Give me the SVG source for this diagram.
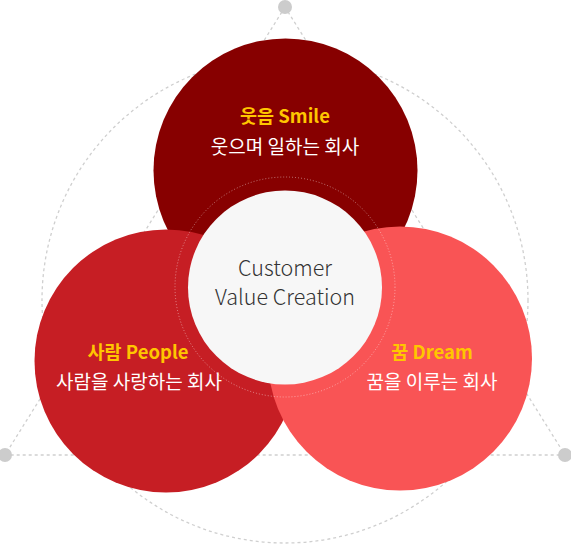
<svg xmlns="http://www.w3.org/2000/svg" width="571" height="545" viewBox="0 0 571 545">
<style>
.guide{fill:none;stroke:#cfcfcf;stroke-width:1.3;stroke-dasharray:3 3}
.dot{fill:#cccccc}
.title{font-family:"Noto Sans CJK KR","Noto Sans",sans-serif;font-weight:700;font-size:18.5px;fill:#ffc600;text-anchor:middle}
.sub{font-family:"Noto Sans CJK KR","Noto Sans",sans-serif;font-weight:400;font-size:19px;fill:#ffffff;text-anchor:middle}
.core{font-family:"Noto Sans CJK KR","Noto Sans",sans-serif;font-weight:300;font-size:21.5px;fill:#333333;text-anchor:middle}
</style>
<rect width="571" height="545" fill="#ffffff"/>
<g id="connectors">
<circle class="guide" cx="285" cy="300" r="243"/>
<polygon class="guide" points="285,7 5,455 565,455"/>
</g>
<g id="dots">
<circle class="dot" cx="285" cy="7" r="7"/>
<circle class="dot" cx="5" cy="455" r="7"/>
<circle class="dot" cx="565" cy="455" r="7"/>
</g>
<g id="smile">
<circle cx="285.5" cy="170.5" r="132" fill="#870000"/>
<text class="title" x="285" y="123">웃음 Smile</text>
<text class="sub" x="285" y="154">웃으며 일하는 회사</text>
</g>
<g id="people">
<circle cx="166" cy="361" r="131.5" fill="#c61e24"/>
<text class="title" x="138" y="359">사람 People</text>
<text class="sub" x="139" y="389">사람을 사랑하는 회사</text>
</g>
<g id="dream">
<circle cx="400" cy="358.5" r="132" fill="#f95455"/>
<text class="title" x="432" y="359">꿈 Dream</text>
<text class="sub" x="432" y="389">꿈을 이루는 회사</text>
</g>
<g id="core">
<circle cx="285" cy="287" r="110" fill="none" stroke="#ffffff" stroke-opacity="0.45" stroke-width="1" stroke-dasharray="1 2"/>
<circle cx="285" cy="287.5" r="97" fill="#f7f7f7"/>
<text class="core" x="285" y="276">Customer</text>
<text class="core" x="285" y="305">Value Creation</text>
</g>
</svg>
